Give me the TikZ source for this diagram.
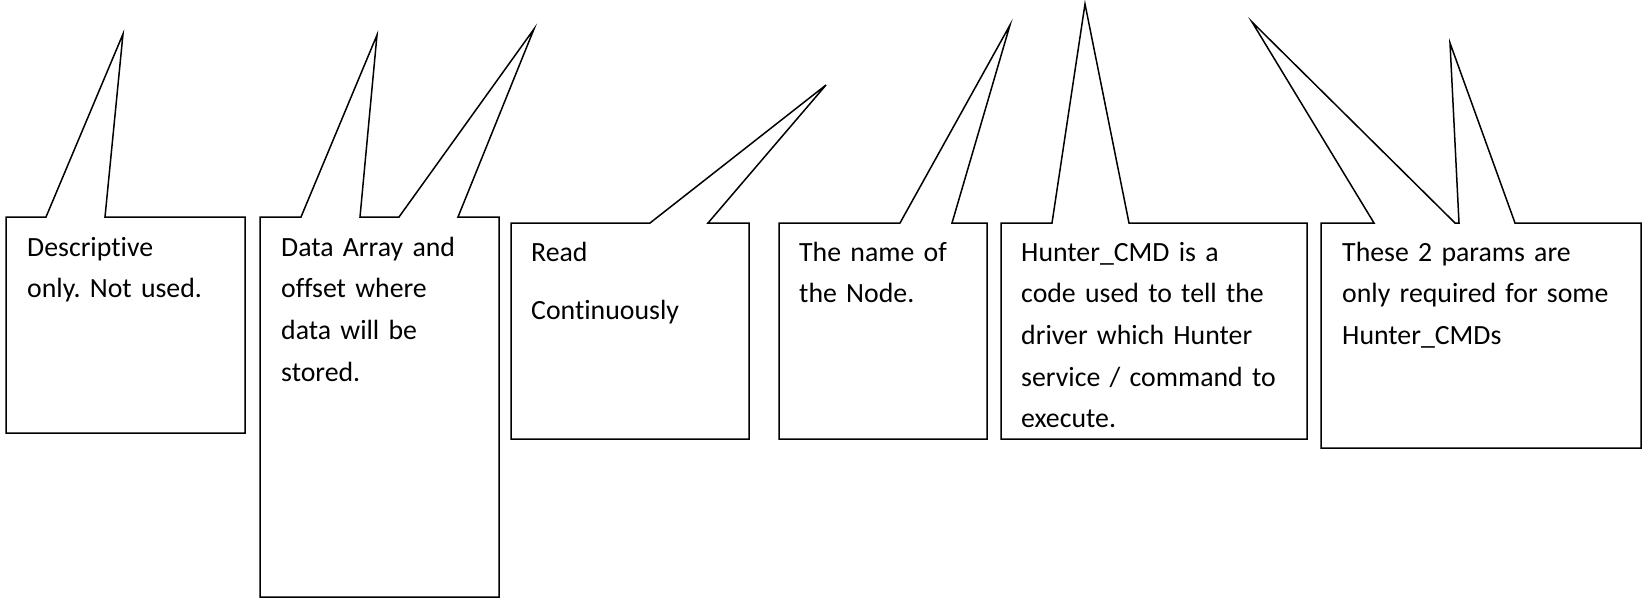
\documentclass[tikz,border=0pt]{standalone}
\usepackage{fontspec}
\setmainfont[Ligatures=NoCommon]{Carlito}
\frenchspacing
\begin{document}
\begin{tikzpicture}[x=1pt,y=-1pt]
\tikzstyle{callout}=[draw,line width=1.5pt,fill=white]
\tikzset{
	note/.style={anchor=base west,inner sep=0,text width=300pt,align=left,
		font=\fontsize{27.8}{41.7}\selectfont}
}
\useasboundingbox[fill=white] (0,0) rectangle (1646,600);
% outlines with their pointers
\draw[callout] (6,217) -- (46,217) -- (123,34) -- (105,217) -- (245,217)
	-- (245,433) -- (6,433) -- cycle;
\draw[callout] (260,217) -- (301,217) -- (377,35) -- (360,217) -- (399,217)
	-- (534,29) -- (458,217) -- (499,217) -- (499,597) -- (260,597) -- cycle;
\draw[callout] (511,223) -- (650,223) -- (826,85) -- (708,223) -- (749,223)
	-- (749,439) -- (511,439) -- cycle;
\draw[callout] (779,223) -- (900,223) -- (1010,25) -- (952,223) -- (987,223)
	-- (987,439) -- (779,439) -- cycle;
\draw[callout] (1001,223) -- (1052,223) -- (1085,4) -- (1129,223) -- (1307,223)
	-- (1307,439) -- (1001,439) -- cycle;
\draw[callout] (1321,223) -- (1374,223) -- (1252,22) -- (1455,223) -- (1459,223)
	-- (1450,43) -- (1515,223) -- (1641,223) -- (1641,448) -- (1321,448) -- cycle;
% texts
\node[note] (descr) at (27,256) {Descriptive\\only. Not used.};
\node[note] (array) at (281,256) {Data Array and\\offset where\\data will be\\stored.};
\node[note] (read) at (531,261) {Read\\[17pt]Continuously};
\node[note] (name) at (799,261) {The name of\\the Node.};
\node[note] (cmd) at (1021,261) {Hunter\_CMD is a\\code used to tell the\\driver which Hunter\\service / command to\\execute.};
\node[note] (params) at (1342,261) {These 2 params are\\only required for some\\Hunter\_CMDs};
\end{tikzpicture}
\end{document}
